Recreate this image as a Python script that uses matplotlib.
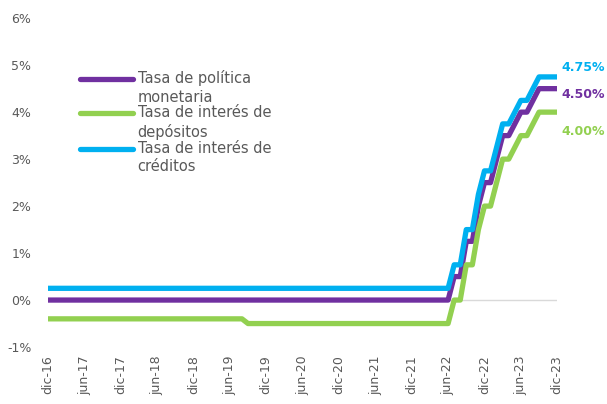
import pandas as pd
import matplotlib.pyplot as plt

# Datos mensuales dic-16 .. dic-23 (85 meses)
months = pd.date_range('2016-12-01', '2023-12-01', freq='MS')

# Tasa de política monetaria
tpm = [0.00,                                                                  # dic-16
       0.00, 0.00, 0.00, 0.00, 0.00, 0.00, 0.00, 0.00, 0.00, 0.00, 0.00, 0.00,  # 2017
       0.00, 0.00, 0.00, 0.00, 0.00, 0.00, 0.00, 0.00, 0.00, 0.00, 0.00, 0.00,  # 2018
       0.00, 0.00, 0.00, 0.00, 0.00, 0.00, 0.00, 0.00, 0.00, 0.00, 0.00, 0.00,  # 2019
       0.00, 0.00, 0.00, 0.00, 0.00, 0.00, 0.00, 0.00, 0.00, 0.00, 0.00, 0.00,  # 2020
       0.00, 0.00, 0.00, 0.00, 0.00, 0.00, 0.00, 0.00, 0.00, 0.00, 0.00, 0.00,  # 2021
       0.00, 0.00, 0.00, 0.00, 0.00, 0.00, 0.50, 0.50, 1.25, 1.25, 2.00, 2.50,  # 2022
       2.50, 3.00, 3.50, 3.50, 3.75, 4.00, 4.00, 4.25, 4.50, 4.50, 4.50, 4.50]  # 2023

# Tasa de interés de depósitos
depositos = [-0.40,
             -0.40, -0.40, -0.40, -0.40, -0.40, -0.40, -0.40, -0.40, -0.40, -0.40, -0.40, -0.40,
             -0.40, -0.40, -0.40, -0.40, -0.40, -0.40, -0.40, -0.40, -0.40, -0.40, -0.40, -0.40,
             -0.40, -0.40, -0.40, -0.40, -0.40, -0.40, -0.40, -0.40, -0.50, -0.50, -0.50, -0.50,
             -0.50, -0.50, -0.50, -0.50, -0.50, -0.50, -0.50, -0.50, -0.50, -0.50, -0.50, -0.50,
             -0.50, -0.50, -0.50, -0.50, -0.50, -0.50, -0.50, -0.50, -0.50, -0.50, -0.50, -0.50,
             -0.50, -0.50, -0.50, -0.50, -0.50, -0.50, 0.00, 0.00, 0.75, 0.75, 1.50, 2.00,
             2.00, 2.50, 3.00, 3.00, 3.25, 3.50, 3.50, 3.75, 4.00, 4.00, 4.00, 4.00]

# Tasa de interés de créditos
creditos = [0.25,
            0.25, 0.25, 0.25, 0.25, 0.25, 0.25, 0.25, 0.25, 0.25, 0.25, 0.25, 0.25,
            0.25, 0.25, 0.25, 0.25, 0.25, 0.25, 0.25, 0.25, 0.25, 0.25, 0.25, 0.25,
            0.25, 0.25, 0.25, 0.25, 0.25, 0.25, 0.25, 0.25, 0.25, 0.25, 0.25, 0.25,
            0.25, 0.25, 0.25, 0.25, 0.25, 0.25, 0.25, 0.25, 0.25, 0.25, 0.25, 0.25,
            0.25, 0.25, 0.25, 0.25, 0.25, 0.25, 0.25, 0.25, 0.25, 0.25, 0.25, 0.25,
            0.25, 0.25, 0.25, 0.25, 0.25, 0.25, 0.75, 0.75, 1.50, 1.50, 2.25, 2.75,
            2.75, 3.25, 3.75, 3.75, 4.00, 4.25, 4.25, 4.50, 4.75, 4.75, 4.75, 4.75]

tick_labels = ['dic-16', 'jun-17', 'dic-17', 'jun-18', 'dic-18', 'jun-19', 'dic-19', 'jun-20',
               'dic-20', 'jun-21', 'dic-21', 'jun-22', 'dic-22', 'jun-23', 'dic-23']

series = [
    ('Tasa de política\nmonetaria', tpm, '#7030A0', (3, -4)),
    ('Tasa de interés de\ndepósitos', depositos, '#92D050', (3, -14)),
    ('Tasa de interés de\ncréditos', creditos, '#00B0F0', (3, 7)),
]

gris = '#595959'
fig = plt.figure(figsize=(6.07, 4.04), dpi=100)
ax = fig.add_axes([0.079, 0.141, 0.839, 0.814])

x = range(len(months))
ax.axhline(0, color='#D9D9D9', lw=1, zorder=1)
for label, vals, color, off in series:
    ax.plot(x, vals, color=color, lw=3.8, zorder=3,
            solid_joinstyle='round', solid_capstyle='butt')
    ax.annotate(f'{vals[-1]:.2f}%', (len(vals) - 1, vals[-1]), xytext=off,
                textcoords='offset points', color=color, fontsize=9,
                fontweight='bold', va='center', ha='left')

# leyenda manual: la línea queda a la altura del primer renglón del texto
leg_y = [0.815, 0.711, 0.602]
for (label, vals, color, off), yy in zip(series, leg_y):
    ax.plot([0.063, 0.167], [yy, yy], transform=ax.transAxes, color=color, lw=3.8,
            solid_capstyle='round', clip_on=False)
    ax.text(0.176, yy + 0.026, label, transform=ax.transAxes, color=gris, fontsize=10.5,
            va='top', ha='left', linespacing=1.3)

ax.set_xlim(0, len(months) - 1)
ax.set_ylim(-1, 6)
ax.set_yticks(range(-1, 7))
ax.set_yticklabels([f'{v}%' for v in range(-1, 7)])
ax.set_xticks(range(0, len(months), 6))
ax.set_xticklabels(tick_labels, rotation=90)
ax.tick_params(length=0, colors=gris, labelsize=9)
ax.tick_params(axis='y', pad=12)
ax.tick_params(axis='x', pad=6)
for s in ax.spines.values():
    s.set_visible(False)

fig.savefig('out.png', dpi=100)
